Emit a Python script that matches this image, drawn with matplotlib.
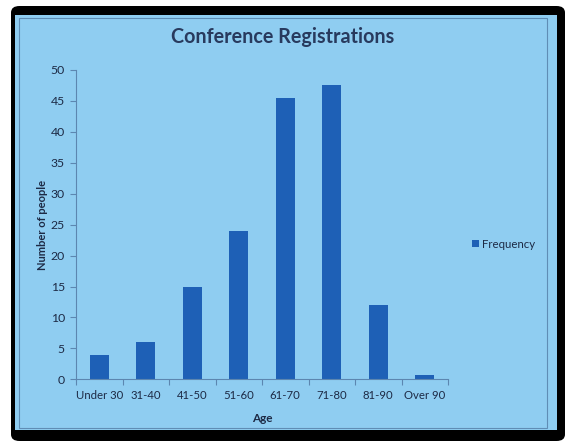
import matplotlib.pyplot as plt
import matplotlib.patches as patches

plt.rcParams['font.family'] = ['Lato', 'DejaVu Sans']

# data
age_groups = ['Under 30', '31-40', '41-50', '51-60', '61-70', '71-80', '81-90', 'Over 90']
frequency = [4, 6, 15, 24, 45.5, 47.6, 12, 0.7]
y_ticks = list(range(0, 51, 5))

W, H = 565, 441
slide_bg = '#8fcdf1'
bar_color = '#1e60b6'
text_color = '#1d2a45'
axis_color = '#5c86b0'


def px_rect(x0, y0, x1, y1, **kw):
    # rectangle in pixel coords (origin top-left) -> figure fraction
    return patches.Rectangle((x0 / W, 1 - y1 / H), (x1 - x0) / W, (y1 - y0) / H,
                             transform=fig.transFigure, **kw)


fig = plt.figure(figsize=(W / 100, H / 100), dpi=100, facecolor='white')

# photo frame: black border of the screen, then the slide
fig.add_artist(patches.FancyBboxPatch((11 / W, 0), (W - 11) / W, (H - 6) / H,
                                      boxstyle='round,pad=0,rounding_size=0.015',
                                      transform=fig.transFigure, facecolor='black',
                                      edgecolor='none', zorder=-3))
fig.add_artist(px_rect(15, 15, 557, 430, facecolor=slide_bg, edgecolor='none', zorder=-2))
fig.add_artist(px_rect(19, 18, 547, 428, facecolor='none', edgecolor='#5f8db5',
                       linewidth=0.8, zorder=-1))

ax = fig.add_axes([76 / W, (H - 379.3) / H, 372 / W, 309.3 / H])
ax.set_facecolor('none')
ax.set_zorder(5)

x = range(len(age_groups))
ax.bar(x, frequency, width=0.4, color=bar_color)

ax.set_xlim(-0.5, len(age_groups) - 0.5)
ax.set_ylim(0, 50)
ax.set_yticks(y_ticks)
ax.set_xticks(list(x))
ax.set_xticklabels(age_groups)
ax.set_xticks([i - 0.5 for i in range(len(age_groups) + 1)], minor=True)
ax.tick_params(axis='x', which='major', length=0, pad=8, labelsize=8.2, labelcolor=text_color)
ax.tick_params(axis='x', which='minor', length=4, color=axis_color, width=0.8)
ax.tick_params(axis='y', length=4, color=axis_color, width=0.8, pad=4,
               labelsize=8.8, labelcolor=text_color)

for side in ['top', 'right']:
    ax.spines[side].set_visible(False)
for side in ['left', 'bottom']:
    ax.spines[side].set_color(axis_color)
    ax.spines[side].set_linewidth(0.8)

ax.set_xlabel('Age', fontsize=8.5, fontweight='bold', color=text_color, labelpad=8)
ax.set_ylabel('Number of people', fontsize=8, fontweight='bold', color=text_color, labelpad=2)

fig.text(283 / W, 1 - 37 / H, 'Conference Registrations', ha='center', va='center',
         fontsize=14.2, fontweight='bold', color='#283a5e')

# legend to the right of the plot
fig.add_artist(px_rect(472, 240, 479, 247, facecolor=bar_color, edgecolor='none'))
fig.text(482 / W, 1 - 244 / H, 'Frequency', ha='left', va='center', fontsize=8.2,
         color=text_color)

fig.savefig('out.png', dpi=100, facecolor=fig.get_facecolor())
